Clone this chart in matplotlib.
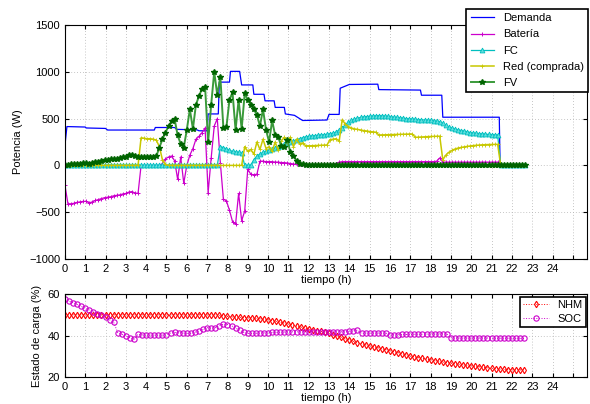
import numpy as np
import matplotlib; matplotlib.use("Agg")
import matplotlib.pyplot as plt
plt.rcParams.update({"font.family": ["Liberation Sans", "DejaVu Sans"], "font.size": 8,
                     "axes.linewidth": 0.8, "xtick.direction": "in", "ytick.direction": "in",
                     "xtick.top": True, "ytick.right": True,
                     "xtick.major.size": 3, "ytick.major.size": 3})

# ---- top panel: power flows, sampled every 0.15 h (rows = 1.5 h) ----
dt_top = 0.15
bateria = [-210, -410, -410, -405, -395, -390, -385, -385, -400, -390,
           -375, -365, -355, -345, -340, -335, -325, -320, -315, -305,
           -300, -285, -280, -295, -300, 0, 0, 0, 0, 0,
           0, 0, 20, 70, 90, 100, 50, -150, 90, -190,
           0, 110, 180, 280, 310, 350, 400, -290, 80, 420,
           500, 30, -360, -380, -480, -600, -630, -300, -590, -490,
           -40, -95, -100, -95, 45, 45, 40, 40, 40, 35,
           35, 30, 30, 25, 20, 15, 10, 10, 10, 10,
           10, 10, 10, 10, 10, 10, 10, 10, 15, 20,
           35, 40, 40, 40, 40, 40, 40, 40, 40, 40,
           40, 40, 40, 40, 40, 40, 40, 40, 40, 40,
           40, 40, 40, 40, 40, 40, 40, 40, 40, 40,
           40, 40, 45, 80, 35, 35, 35, 35, 35, 35,
           35, 35, 35, 35, 35, 35, 35, 35, 35, 35,
           35, 35, 35, 0, 0, 0, 0, 0, 0, 0,
           0, 0]
fv = [0, 5, 10, 15, 20, 20, 25, 25, 20, 25,
      35, 40, 45, 55, 60, 65, 65, 70, 75, 85,
      95, 110, 115, 100, 90, 90, 90, 95, 95, 95,
      100, 190, 280, 350, 420, 470, 495, 320, 230, 190,
      380, 600, 390, 650, 740, 820, 840, 250, 650, 1000,
      750, 950, 400, 410, 700, 780, 380, 700, 390, 770,
      700, 650, 600, 540, 420, 600, 380, 250, 480, 320,
      300, 210, 200, 270, 140, 100, 50, 20, 10, 5,
      5, 5, 5, 5, 5, 5, 5, 5, 5, 5,
      5, 5, 5, 5, 5, 5, 5, 5, 5, 5,
      5, 5, 5, 5, 5, 5, 5, 5, 5, 5,
      5, 5, 5, 5, 5, 5, 5, 5, 5, 5,
      5, 5, 5, 5, 5, 5, 5, 5, 5, 5,
      5, 5, 5, 5, 5, 5, 5, 5, 5, 5,
      5, 5, 5, 5, 5, 5, 5, 5, 5, 5,
      5, 5]
red = [0, 0, 0, 0, 0, 0, 0, 0, 0, 0,
       0, 0, 0, 0, 0, 0, 0, 0, 0, 0,
       0, 0, 0, 0, 0, 295, 290, 285, 285, 280,
       270, 200, 60, 10, 0, 0, 0, 0, 0, 0,
       0, 0, 0, 0, 0, 0, 0, 0, 0, 0,
       0, 0, 0, 0, 0, 0, 0, 0, 0, 200,
       150, 170, 120, 250, 170, 280, 180, 200, 150, 250,
       160, 260, 300, 250, 300, 200, 280, 230, 240, 210,
       210, 210, 212, 214, 215, 216, 218, 275, 280, 285,
       260, 490, 440, 415, 400, 390, 385, 378, 372, 368,
       362, 358, 355, 325, 326, 327, 328, 329, 330, 331,
       332, 333, 334, 335, 336, 300, 302, 304, 306, 308,
       309, 310, 312, 312, 60, 110, 140, 160, 175, 185,
       192, 198, 203, 208, 212, 215, 218, 220, 222, 223,
       224, 225, 225, 0, 0, 0, 0, 0, 0, 0,
       0, 0]
fc = [0, 0, 0, 0, 0, 0, 0, 0, 0, 0,
      0, 0, 0, 0, 0, 0, 0, 0, 0, 0,
      0, 0, 0, 0, 0, 0, 0, 0, 0, 0,
      0, 0, 0, 0, 0, 0, 0, 0, 0, 0,
      0, 0, 0, 0, 0, 0, 0, 0, 0, 0,
      0, 200, 190, 175, 160, 150, 145, 140, 130, 0,
      0, 0, 60, 100, 120, 140, 150, 160, 170, 185,
      200, 210, 225, 240, 250, 260, 275, 285, 295, 305,
      310, 315, 318, 320, 325, 328, 332, 338, 345, 355,
      380, 400, 430, 460, 480, 495, 505, 512, 518, 522,
      525, 528, 530, 532, 530, 528, 524, 518, 515, 512,
      508, 505, 500, 497, 494, 492, 490, 488, 486, 483,
      480, 476, 472, 466, 450, 430, 410, 398, 388, 380,
      372, 365, 358, 350, 345, 342, 340, 337, 334, 331,
      329, 327, 325, 0, 0, 0, 0, 0, 0, 0,
      0, 0]
# demand: breakpoints of the step profile
dem_t = [0, 0.1, 1.0, 1.05, 2.0, 2.1, 4.4, 4.45, 5.4, 5.5, 6.5, 6.6, 7.0, 7.05, 7.55, 7.6,
         8.1, 8.15, 8.6, 8.7, 9.25, 9.3, 9.8, 9.85, 10.3, 10.35, 10.8, 10.85, 11.3, 11.7,
         12.9, 13.0, 13.5, 13.55, 14.0, 15.4, 15.45, 17.5, 17.55, 18.55, 18.6, 21.38, 21.42]
dem_v = [210, 415, 410, 400, 395, 378, 378, 405, 405, 385, 380, 370, 370, 550, 550, 890,
         890, 1005, 1005, 860, 860, 760, 760, 690, 690, 620, 620, 550, 535, 480,
         485, 545, 545, 825, 865, 868, 810, 805, 750, 750, 515, 515, 0]

# ---- bottom panel: state of charge, sampled every 0.2 h ----
dt_bot = 0.2
nhm = [50, 50, 50, 50, 50, 50, 50, 50, 50, 50,
       50, 50, 50, 50, 50, 50, 50, 50, 50, 50,
       50, 50, 50, 50, 50, 50, 50, 50, 50, 50,
       50, 50, 50, 50, 50, 50, 50, 50,
       49.8, 49.5, 49.2, 49.0, 48.9, 48.8, 48.7, 48.6, 48.5, 48.3,
       48.1, 47.9, 47.6, 47.2, 46.8, 46.4, 46.0, 45.6, 45.1, 44.6,
       44.1, 43.6, 43.1, 42.7, 42.4, 42.0, 41.5, 41.0, 40.4, 39.8,
       39.2, 38.5, 37.8, 37.2, 36.6, 36.1, 35.5, 35.0, 34.5, 34.1,
       33.6, 33.2, 32.7, 32.2, 31.7, 31.2, 30.6, 30.1, 29.7, 29.3,
       29.0, 28.6, 28.2, 27.9, 27.6, 27.2, 26.9, 26.6, 26.3, 26.1,
       25.8, 25.6, 25.3, 25.1, 24.9, 24.6, 24.4, 24.2, 24.0, 23.8,
       23.6, 23.5, 23.4, 23.4, 23.4, 23.4]
soc = [57.4, 56.6, 55.9, 55.0, 54.1, 53.1, 52.3, 51.4, 50.6, 49.7,
       48.8, 47.6, 46.4, 41.4, 40.6, 39.8, 39.0, 38.2, 40.6, 40.3,
       40.2, 40.2, 40.2, 40.2, 40.2, 40.3, 41.2, 41.5, 41.4, 41.2,
       41.0, 41.1, 41.6, 42.2, 43.0, 43.8, 43.6, 43.8, 44.8, 45.5,
       45.3, 44.7, 43.6, 42.6, 41.5, 41.0, 41.0, 41.1, 41.2, 41.3,
       41.4, 41.5, 41.5, 41.6, 41.7, 41.8,
       41.8, 41.8, 41.8, 41.8, 41.8, 41.8, 41.8, 41.8, 41.8, 41.8, 41.8, 41.8, 41.8, 41.8,
       42.0, 42.3, 42.6, 41.0,
       41.2, 41.2, 41.2, 41.2, 41.2, 41.2, 40.1,
       40.4, 40.4, 40.5, 40.5, 40.5, 40.6, 40.6, 40.6, 40.7, 40.7, 40.7, 40.8, 40.8, 40.8,
       39.0,
       38.8, 38.8, 38.8, 38.8, 38.8, 38.8, 38.8, 38.8, 38.8, 38.7, 38.7, 38.7, 38.7, 38.7,
       38.7, 38.6, 38.6, 38.6]

hour_ticks = list(range(26))
hour_labels = [str(h) for h in range(25)] + [""]

fig = plt.figure(figsize=(5.9, 4.04), dpi=100)
ax1 = fig.add_axes([0.110, 0.359, 0.885, 0.579])
ax2 = fig.add_axes([0.110, 0.067, 0.885, 0.205])
grid_kw = dict(ls=(0, (1, 2.5)), color="0.7", lw=0.6)

t = lambda s, d: np.arange(len(s)) * d
ax1.plot(dem_t, dem_v, color="#0000ff", lw=0.9, label="Demanda")
ax1.plot(t(bateria, dt_top), bateria, color="#cc00cc", lw=0.9, marker="+", ms=3, mew=0.7,
         label="Batería")
ax1.plot(t(fc, dt_top), fc, color="#00bfbf", lw=0.9, marker="^", ms=3.5, mfc="#60dede",
         mec="#00bfbf", mew=0.6, label="FC")
ax1.plot(t(red, dt_top), red, color="#c8c800", lw=1.1, marker="+", ms=2.5, mew=0.6,
         label="Red (comprada)")
ax1.plot(t(fv, dt_top), fv, color="#3a9a3a", lw=1.4, marker="*", ms=4.2, mfc="#006400",
         mec="#006400", label="FV")
ax1.set_xlim(0, 25.7); ax1.set_ylim(-1000, 1500)
ax1.set_yticks([-1000, -500, 0, 500, 1000, 1500])
ax1.set_xticks(hour_ticks); ax1.set_xticklabels(hour_labels)
ax1.grid(True, **grid_kw)
ax1.set_xlabel("tiempo (h)", labelpad=1)
ax1.set_ylabel("Potencia (W)")
ax1.legend(loc="upper right", bbox_to_anchor=(0.997, 0.978), bbox_transform=fig.transFigure,
           fancybox=False, framealpha=1, edgecolor="k", handlelength=2.1, labelspacing=0.55,
           borderaxespad=0).get_frame().set_linewidth(1.2)

ax2.plot(t(nhm, dt_bot), nhm, color="red", ls=":", lw=0.7, marker="d", ms=3.3, mfc="none",
         mew=0.8, label="NHM")
ax2.plot(t(soc, dt_bot), soc, color="#cc00cc", ls=":", lw=0.7, marker="o", ms=3.8, mfc="none",
         mew=0.8, label="SOC")
ax2.set_xlim(0, 25.7); ax2.set_ylim(20, 60)
ax2.set_yticks([20, 40, 60])
ax2.set_xticks(hour_ticks); ax2.set_xticklabels(hour_labels)
ax2.grid(True, **grid_kw)
ax2.set_xlabel("tiempo (h)", labelpad=1)
ax2.set_ylabel("Estado de carga (%)")
ax2.legend(loc="upper right", bbox_to_anchor=(0.993, 0.265), bbox_transform=fig.transFigure,
           fancybox=False, framealpha=1, edgecolor="k", handlelength=2.3, labelspacing=0.3,
           borderaxespad=0, borderpad=0.3).get_frame().set_linewidth(1.2)

fig.savefig("out.png", dpi=100)
